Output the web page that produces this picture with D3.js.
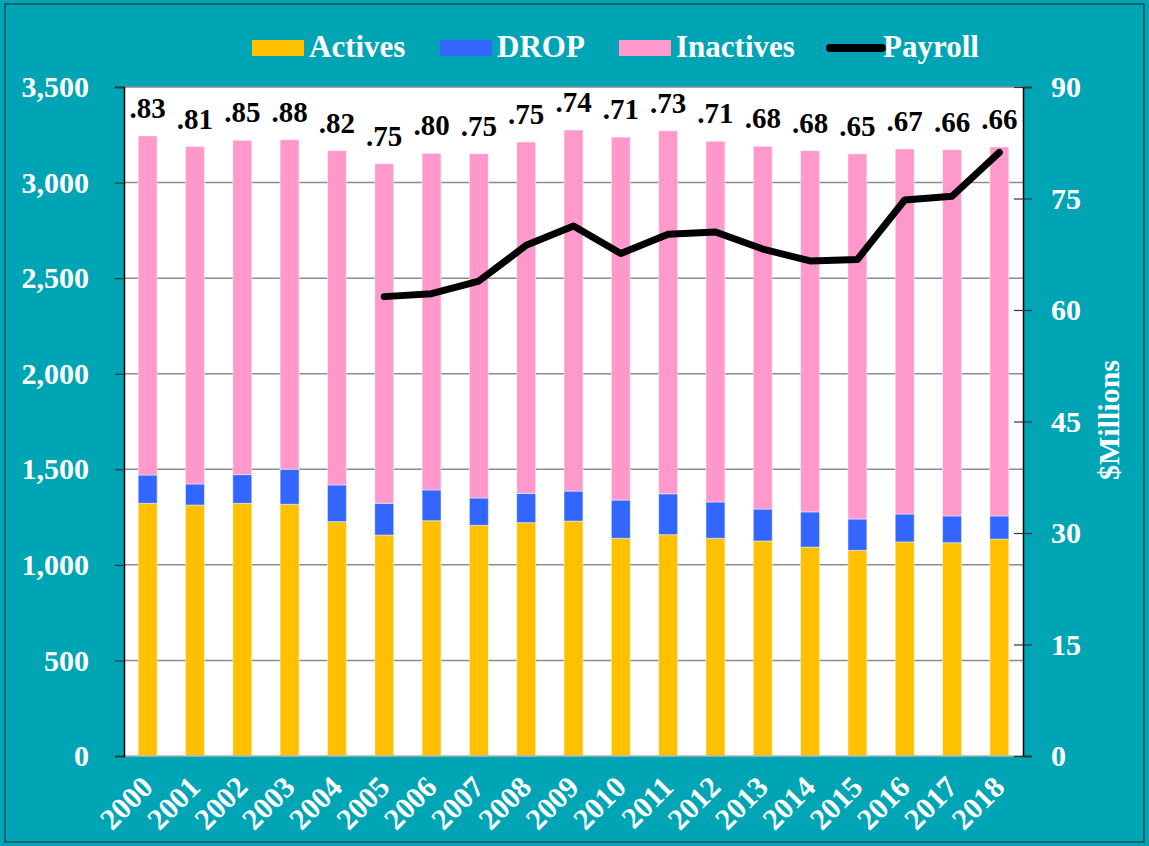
<!DOCTYPE html>
<html>
<head>
<meta charset="utf-8">
<script src="https://cdn.jsdelivr.net/npm/d3@7"></script>
<style>
  html, body { margin: 0; padding: 0; background: #00A5B5; }
  svg { display: block; }
  text { font-family: "Liberation Serif", "Times New Roman", "DejaVu Serif", serif; font-weight: bold; }
</style>
</head>
<body>
<svg id="chart" width="1149" height="846"></svg>
<script>
// ---- Data ----
const years = ["2000","2001","2002","2003","2004","2005","2006","2007","2008","2009",
               "2010","2011","2012","2013","2014","2015","2016","2017","2018"];
const actives   = [1322,1313,1322,1317,1226,1156,1231,1207,1221,1229,1139,1158,1139,1125,1093,1076,1120,1116,1135];
const drop      = [148,110,150,183,192,166,161,143,153,157,200,214,190,167,184,164,146,140,121];
const inactives = [1774,1765,1749,1724,1749,1777,1761,1801,1838,1889,1899,1899,1887,1898,1890,1910,1910,1916,1930];
const payroll   = [null,null,null,null,null,61.8,62.2,63.9,68.7,71.3,67.6,70.2,70.5,68.2,66.6,66.8,74.8,75.3,81.2];
const ratioLabels = [".83",".81",".85",".88",".82",".75",".80",".75",".75",".74",
                     ".71",".73",".71",".68",".68",".65",".67",".66",".66"];
const leftTicks  = [0,500,1000,1500,2000,2500,3000,3500];
const rightTicks = [0,15,30,45,60,75,90];
const seriesNames = ["Actives","DROP","Inactives"];
const seriesColors = ["#FFC000","#3366FF","#FF99CC"];

// ---- Layout ----
const svg = d3.select("#chart");
const W = 1149, H = 846;
const plot = {left: 124, right: 1023, top: 87, bottom: 756};

svg.append("rect").attr("x",0).attr("y",0).attr("width",W).attr("height",H).attr("fill","#00A5B5");
svg.append("rect").attr("x",5).attr("y",4).attr("width",W-10).attr("height",H-8)
   .attr("fill","none").attr("stroke","#1a3a40").attr("stroke-width",1.2);

const x = d3.scaleBand().domain(years).range([plot.left, plot.right]).paddingInner(0.6).paddingOuter(0.3);
const y = d3.scaleLinear().domain([0,3500]).range([plot.bottom, plot.top]);
const y2 = d3.scaleLinear().domain([0,90]).range([plot.bottom, plot.top]);

// plot area
svg.append("rect").attr("x",plot.left).attr("y",plot.top)
   .attr("width",plot.right-plot.left).attr("height",plot.bottom-plot.top).attr("fill","#ffffff");

// gridlines
svg.append("g").selectAll("line").data(leftTicks.filter(d=>d>0)).join("line")
  .attr("x1",plot.left).attr("x2",plot.right)
  .attr("y1",d=>y(d)).attr("y2",d=>y(d))
  .attr("stroke","#8c8c8c").attr("stroke-width",1.5);

// stacked bars
const table = years.map((yr,i)=>({year:yr, Actives:actives[i], DROP:drop[i], Inactives:inactives[i]}));
const stack = d3.stack().keys(seriesNames)(table);
svg.append("g").selectAll("g").data(stack).join("g")
  .attr("fill",(d,i)=>seriesColors[i])
  .selectAll("rect").data(d=>d).join("rect")
  .attr("x",d=>x(d.data.year)).attr("width",x.bandwidth())
  .attr("y",d=>y(d[1])).attr("height",d=>y(d[0])-y(d[1]))
  .attr("stroke","rgba(255,255,255,0.45)").attr("stroke-width",1);

// bottom line
svg.append("line").attr("x1",plot.left).attr("x2",plot.right)
  .attr("y1",plot.bottom).attr("y2",plot.bottom).attr("stroke","#b0b0b0").attr("stroke-width",1.5);

// left axis
const gl = svg.append("g").attr("transform",`translate(${plot.left},0)`)
  .call(d3.axisLeft(y).tickValues(leftTicks).tickFormat(d3.format(",")).tickSize(9).tickPadding(26));
gl.select(".domain").attr("stroke","#000").attr("stroke-width",1.5);
gl.selectAll(".tick line").attr("stroke","#333").attr("stroke-width",1.2);
gl.selectAll(".tick text").attr("fill","#fff").attr("font-size",30)
  .attr("font-family",'"Liberation Serif","Times New Roman",serif').attr("font-weight","bold");

// right axis
const gr = svg.append("g").attr("transform",`translate(${plot.right},0)`)
  .call(d3.axisRight(y2).tickValues(rightTicks).tickSize(9).tickPadding(19));
gr.select(".domain").attr("stroke","#000").attr("stroke-width",1.5);
gr.selectAll(".tick line").attr("stroke","#333").attr("stroke-width",1.2).attr("x1",-9);
gr.selectAll(".tick text").attr("fill","#fff").attr("font-size",30)
  .attr("font-family",'"Liberation Serif","Times New Roman",serif').attr("font-weight","bold");

svg.append("text").attr("transform",`translate(1119,420) rotate(-90)`)
  .attr("text-anchor","middle").attr("fill","#fff").attr("font-size",30).text("$Millions");

// x labels
svg.append("g").selectAll("text").data(years).join("text")
  .attr("transform",d=>`translate(${x(d)+x.bandwidth()/2+7},${plot.bottom+33}) rotate(-45)`)
  .attr("text-anchor","end").attr("fill","#fff").attr("font-size",30).text(d=>d);

// payroll line
const line = d3.line().defined(d=>d.v!=null)
  .x(d=>x(d.year)+x.bandwidth()/2).y(d=>y2(d.v));
svg.append("path").datum(years.map((yr,i)=>({year:yr, v:payroll[i]})))
  .attr("d",line).attr("fill","none").attr("stroke","#000").attr("stroke-width",7)
  .attr("stroke-linejoin","round").attr("stroke-linecap","round");

// ratio labels
svg.append("g").selectAll("text").data(table).join("text")
  .attr("x",d=>x(d.year)+x.bandwidth()/2)
  .attr("y",d=>y(d.Actives+d.DROP+d.Inactives)-18)
  .attr("text-anchor","middle").attr("fill","#000").attr("font-size",29)
  .text((d,i)=>ratioLabels[i]);

// legend
const legendItems = [
  {name:"Actives", type:"rect", color:seriesColors[0], x:252},
  {name:"DROP", type:"rect", color:seriesColors[1], x:440},
  {name:"Inactives", type:"rect", color:seriesColors[2], x:619},
  {name:"Payroll", type:"line", color:"#000", x:826}
];
const lg = svg.append("g");
legendItems.forEach(it=>{
  if(it.type==="rect"){
    lg.append("rect").attr("x",it.x).attr("y",40).attr("width",52).attr("height",16).attr("fill",it.color);
  } else {
    lg.append("line").attr("x1",it.x+4).attr("x2",it.x+56).attr("y1",48).attr("y2",48)
      .attr("stroke",it.color).attr("stroke-width",8).attr("stroke-linecap","round");
  }
  lg.append("text").attr("x",it.x+57).attr("y",57).attr("fill","#fff").attr("font-size",31).text(it.name);
});
</script>
</body>
</html>
